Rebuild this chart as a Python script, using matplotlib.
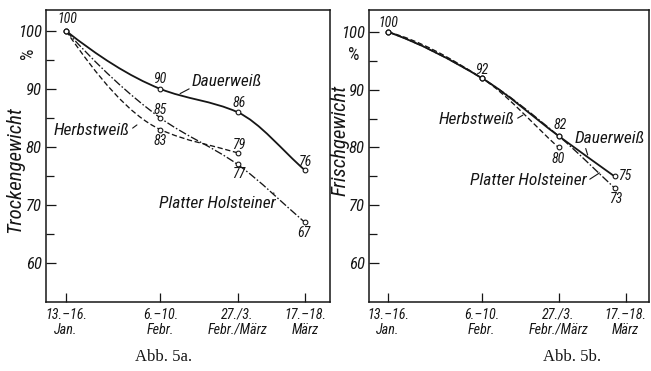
import numpy as np
import matplotlib
matplotlib.use("Agg")
import matplotlib.pyplot as plt
from matplotlib import font_manager as fm
from matplotlib.path import Path
from matplotlib.patches import PathPatch
from matplotlib.ticker import FixedLocator

# sampling dates as day of the year
days = [14.5, 39, 59, 76.5]
days_b = [14.5, 39, 59, 73.6]   # in 5b the last point sits left of its tick
tick_labels = ["13.–16.\nJan.", "6.–10.\nFebr.", "27./3.\nFebr./März", "17.–18.\nMärz"]

# Abb. 5a: Trockengewicht in %
dry_dauer = [100, 90, 86, 76]
dry_herbst = [100, 83, 79]
dry_platter = [100, 85, 77, 67]

# Abb. 5b: Frischgewicht in %
fresh_dauer = [100, 92, 82, 75]
fresh_herbst = [100, 92, 80]
fresh_platter = [100, 92, 82, 73]

INK = "#161616"


def pick_hand_font():
    # the lettering in the scan is a narrow italic: take the narrowest we have
    names = {f.name for f in fm.fontManager.ttflist}
    for fam in ["Liberation Sans Narrow", "Roboto Condensed", "Open Sans Condensed"]:
        if fam in names:
            return fam, "normal", 1.0
    if any("Condensed" in f.fname and "DejaVuSans" in f.fname for f in fm.fontManager.ttflist):
        return "DejaVu Sans", "condensed", 0.95
    return "DejaVu Sans", "normal", 0.82


HAND_FAM, HAND_STRETCH, SCALE = pick_hand_font()
HAND = [HAND_FAM, "DejaVu Sans"]


def hand(size, italic=True):
    return dict(family=HAND, fontstretch=HAND_STRETCH, fontsize=size * SCALE,
                style="italic" if italic else "normal", color=INK)


def slopes(x, y):
    # monotone (pchip-like) tangents, chord slope at the last point
    x = np.asarray(x, float)
    y = np.asarray(y, float)
    h = np.diff(x)
    d = np.diff(y) / h
    m = np.zeros_like(y)
    for k in range(1, len(x) - 1):
        if d[k - 1] * d[k] > 0:
            w1 = 2 * h[k] + h[k - 1]
            w2 = h[k] + 2 * h[k - 1]
            m[k] = (w1 + w2) / (w1 / d[k - 1] + w2 / d[k])
    if len(x) > 2:
        s = ((2 * h[0] + h[1]) * d[0] - h[0] * d[1]) / (h[0] + h[1])
        if np.sign(s) != np.sign(d[0]):
            s = 0.0
        m[0] = s
    else:
        m[0] = d[0]
    m[-1] = d[-1]
    return m


def smooth_line(ax, x, y, ls, lw):
    m = slopes(x, y)
    verts = [(x[0], y[0])]
    codes = [Path.MOVETO]
    for k in range(len(x) - 1):
        h = x[k + 1] - x[k]
        verts += [(x[k] + h / 3, y[k] + m[k] * h / 3),
                  (x[k + 1] - h / 3, y[k + 1] - m[k + 1] * h / 3),
                  (x[k + 1], y[k + 1])]
        codes += [Path.CURVE4] * 3
    ax.add_patch(PathPatch(Path(verts, codes), fill=False, edgecolor=INK,
                           linewidth=lw, linestyle=ls, capstyle="butt"))
    ax.plot(x, y, "o", ms=3.4, mfc="white", mec=INK, mew=0.8, zorder=5)


def value_labels(ax, x, y, offsets):
    for xi, yi, (dx, dy) in zip(x, y, offsets):
        ax.annotate(f"{yi}", (xi, yi), xytext=(dx, dy), textcoords="offset pixels",
                    ha="center", va="center", **hand(10))


def series_label(ax, text, xy, xytext, relpos):
    ax.annotate(text, xy=xy, xytext=xytext, ha="center", va="center", **hand(12.5),
                arrowprops=dict(arrowstyle="-", color=INK, lw=0.8,
                                relpos=relpos, shrinkA=0, shrinkB=0))


def frame(ax, xlim, ylim):
    ax.set_xlim(*xlim)
    ax.set_ylim(*ylim)
    for sp in ax.spines.values():
        sp.set_linewidth(1.1)
        sp.set_color(INK)
    ax.xaxis.set_major_locator(FixedLocator(days))
    ax.set_xticklabels(tick_labels)
    ax.yaxis.set_major_locator(FixedLocator([60, 70, 80, 90, 100]))
    ax.yaxis.set_minor_locator(FixedLocator([65, 75, 85, 95]))
    ax.tick_params(axis="x", direction="in", length=6.5, width=0.9, pad=4,
                   colors=INK)
    ax.tick_params(axis="y", which="major", direction="in", length=7, width=0.9,
                   pad=3, colors=INK)
    ax.tick_params(axis="y", which="minor", direction="in", length=6, width=0.9,
                   colors=INK)
    for t in ax.get_xticklabels():
        t.update(hand(10.2))
        t.set_linespacing(1.1)
    for t in ax.get_yticklabels():
        t.update(hand(12))


DASHED = (0, (4, 2))
DASHDOT = (0, (6, 1.6, 1.2, 1.6))

fig = plt.figure(figsize=(6.51, 3.71), dpi=100)

# ---- Abb. 5a
ax1 = fig.add_axes([46 / 651, 69 / 371, 284 / 651, 292 / 371])
frame(ax1, (9.3, 83.0), (53.3, 103.6))
smooth_line(ax1, days, dry_dauer, "-", 1.3)
smooth_line(ax1, days[:3], dry_herbst, DASHED, 0.95)
smooth_line(ax1, days, dry_platter, DASHDOT, 0.95)
value_labels(ax1, days, dry_dauer, [(1, 12), (0, 10), (2, 9), (0, 8)])
value_labels(ax1, days[1:3], dry_herbst[1:], [(0, -11), (1, 8)])
value_labels(ax1, days[1:], dry_platter[1:], [(0, 8), (1, -10), (-1, -11)])
series_label(ax1, "Dauerweiß", (44.1, 89.2), (56.3, 91.3), (0.0, 0.1))
series_label(ax1, "Herbstweiß", (32.9, 83.8), (21.2, 82.9), (1.0, 0.5))
series_label(ax1, "Platter Holsteiner", (68.4, 72.1), (53.7, 70.2), (1.0, 0.6))

# ---- Abb. 5b
ax2 = fig.add_axes([369 / 651, 69 / 371, 280 / 651, 292 / 371])
frame(ax2, (9.55, 82.6), (53.25, 103.8))
smooth_line(ax2, days_b, fresh_dauer, "-", 1.3)
smooth_line(ax2, days_b[:3], fresh_herbst, DASHED, 0.95)
smooth_line(ax2, days_b, fresh_platter, DASHDOT, 0.95)
value_labels(ax2, days_b[:3], fresh_dauer[:3], [(0, 9), (1, 8), (2, 11)])
value_labels(ax2, days_b[3:], fresh_dauer[3:], [(10, 0)])
value_labels(ax2, days_b[2:3], fresh_herbst[2:], [(0, -12)])
value_labels(ax2, days_b[3:], fresh_platter[3:], [(1, -11)])
series_label(ax2, "Herbstweiß", (49.7, 85.6), (37.7, 84.8), (1.0, 0.5))
series_label(ax2, "Dauerweiß", (66.6, 78.7), (72.3, 81.6), (0.15, 0.0))
series_label(ax2, "Platter Holsteiner", (69.7, 75.6), (51.2, 74.2), (1.0, 0.5))

# axis titles, percent signs and captions
fig.text(15 / 651, 1 - 170 / 371, "Trockengewicht", rotation=90, ha="center",
         va="center", **hand(15))
fig.text(340 / 651, 1 - 140 / 371, "Frischgewicht", rotation=90, ha="center",
         va="center", **hand(15))
fig.text(28 / 651, 1 - 53 / 371, "%", rotation=90, ha="center", va="center",
         **hand(13, italic=False))
fig.text(354 / 651, 1 - 55 / 371, "%", ha="center", va="center",
         **hand(13, italic=False))
fig.text(164 / 651, 1 - 357 / 371, "Abb. 5a.", ha="center", va="center",
         fontsize=12, family="Liberation Serif", color=INK)
fig.text(572 / 651, 1 - 357 / 371, "Abb. 5b.", ha="center", va="center",
         fontsize=12, family="Liberation Serif", color=INK)

fig.savefig("out.png", dpi=100)
